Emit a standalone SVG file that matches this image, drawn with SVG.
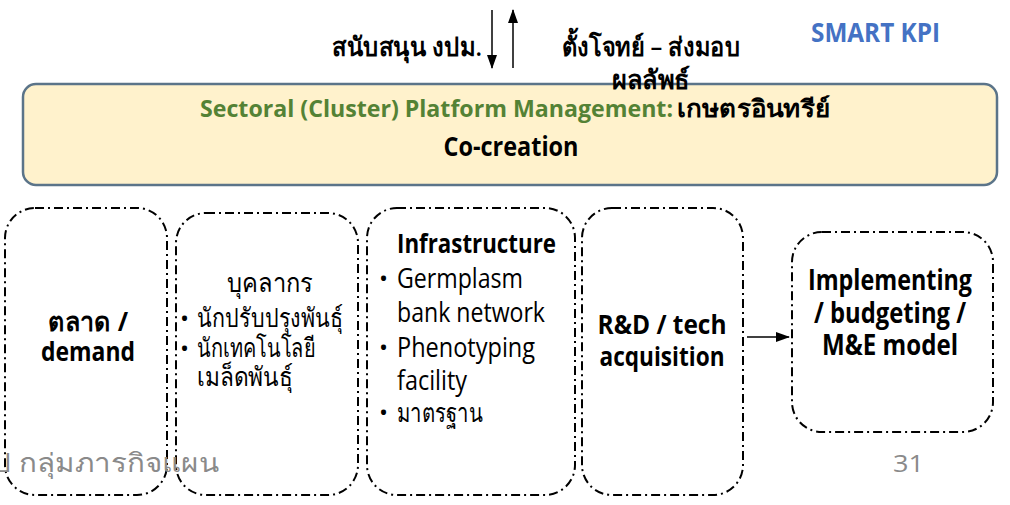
<svg xmlns="http://www.w3.org/2000/svg" width="1010" height="505" viewBox="0 0 1010 505">
<defs>
<style>
.t{font-family:"Open Sans","Noto Sans",sans-serif;fill:#000}
.b{font-weight:bold}
.m{font-weight:600}
.box{fill:none;stroke:#000;stroke-width:2;stroke-dasharray:9 4 2 4}
.gray{fill:#8a8a8a}
</style>
<marker id="ah" markerWidth="14" markerHeight="10" refX="13" refY="5" orient="auto" markerUnits="userSpaceOnUse">
<path d="M0,0 L14,5 L0,10 z" fill="#000"/>
</marker>
</defs>
<rect width="1010" height="505" fill="#fff"/>

<g id="banner">
<rect x="23" y="84" width="974" height="101" rx="13" fill="#fff2cc" stroke="#5b7489" stroke-width="2.5"/>
<text class="t b" x="200" y="117" font-size="24" textLength="473" lengthAdjust="spacingAndGlyphs" style="fill:#548235">Sectoral (Cluster) Platform Management:</text>
<text class="t m" x="677" y="117" font-size="24" textLength="153" lengthAdjust="spacingAndGlyphs">เกษตรอินทรีย์</text>
<text class="t b" x="511" y="156" font-size="26" text-anchor="middle" textLength="135" lengthAdjust="spacingAndGlyphs">Co-creation</text>
</g>

<g id="top-labels">
<text class="t m" x="332" y="56" font-size="26" textLength="150" lengthAdjust="spacingAndGlyphs">สนับสนุน งปม.</text>
<text class="t m" x="562" y="56" font-size="26" textLength="178" lengthAdjust="spacingAndGlyphs">ตั้งโจทย์ – ส่งมอบ</text>
<text class="t m" x="612" y="89" font-size="26" textLength="78" lengthAdjust="spacingAndGlyphs">ผลลัพธ์</text>
<text class="t b" x="811" y="42" font-size="26" textLength="129" lengthAdjust="spacingAndGlyphs" style="fill:#4472c4">SMART KPI</text>
</g>

<g id="connectors">
<line x1="492" y1="10" x2="492" y2="68" stroke="#000" stroke-width="1.5" marker-end="url(#ah)"/>
<line x1="513" y1="68" x2="513" y2="10" stroke="#000" stroke-width="1.5" marker-end="url(#ah)"/>
<line x1="747" y1="337" x2="789" y2="337" stroke="#000" stroke-width="1.5" marker-end="url(#ah)"/>
</g>

<g id="node-market">
<rect class="box" x="5" y="208" width="162" height="287" rx="30"/>
<text class="t b" x="88" y="331" font-size="27" text-anchor="middle" textLength="80" lengthAdjust="spacingAndGlyphs">ตลาด /</text>
<text class="t b" x="88" y="361" font-size="27" text-anchor="middle" textLength="94" lengthAdjust="spacingAndGlyphs">demand</text>
</g>

<g id="node-people">
<rect class="box" x="176" y="213" width="182" height="282" rx="30"/>
<text class="t" x="270" y="292" font-size="27" text-anchor="middle" textLength="86" lengthAdjust="spacingAndGlyphs">บุคลากร</text>
<text class="t" x="180" y="327" font-size="24">•</text>
<text class="t" x="197" y="327" font-size="26" textLength="146" lengthAdjust="spacingAndGlyphs">นักปรับปรุงพันธุ์</text>
<text class="t" x="180" y="357" font-size="24">•</text>
<text class="t" x="197" y="357" font-size="26" textLength="118" lengthAdjust="spacingAndGlyphs">นักเทคโนโลยี</text>
<text class="t" x="197" y="386" font-size="26" textLength="96" lengthAdjust="spacingAndGlyphs">เมล็ดพันธุ์</text>
</g>

<g id="node-infra">
<rect class="box" x="367" y="208" width="208" height="287" rx="30"/>
<text class="t b" x="397" y="253" font-size="27" textLength="159" lengthAdjust="spacingAndGlyphs">Infrastructure</text>
<text class="t" x="379" y="287" font-size="24">•</text>
<text class="t" x="397" y="288" font-size="27" textLength="126" lengthAdjust="spacingAndGlyphs">Germplasm</text>
<text class="t" x="397" y="322" font-size="27" textLength="148" lengthAdjust="spacingAndGlyphs">bank network</text>
<text class="t" x="379" y="356" font-size="24">•</text>
<text class="t" x="397" y="357" font-size="27" textLength="138" lengthAdjust="spacingAndGlyphs">Phenotyping</text>
<text class="t" x="397" y="390" font-size="27" textLength="70" lengthAdjust="spacingAndGlyphs">facility</text>
<text class="t" x="379" y="421" font-size="24">•</text>
<text class="t" x="397" y="422" font-size="26" textLength="86" lengthAdjust="spacingAndGlyphs">มาตรฐาน</text>
</g>

<g id="node-rd">
<rect class="box" x="582" y="208" width="161" height="287" rx="30"/>
<text class="t b" x="662" y="334" font-size="27" text-anchor="middle" textLength="129" lengthAdjust="spacingAndGlyphs">R&amp;D / tech</text>
<text class="t b" x="662" y="366" font-size="27" text-anchor="middle" textLength="125" lengthAdjust="spacingAndGlyphs">acquisition</text>
</g>

<g id="node-impl">
<rect class="box" x="792" y="232" width="201" height="200" rx="30"/>
<text class="t b" x="890" y="290" font-size="28" text-anchor="middle" textLength="164" lengthAdjust="spacingAndGlyphs">Implementing</text>
<text class="t b" x="890" y="323" font-size="28" text-anchor="middle" textLength="152" lengthAdjust="spacingAndGlyphs">/ budgeting /</text>
<text class="t b" x="890" y="355" font-size="28" text-anchor="middle" textLength="136" lengthAdjust="spacingAndGlyphs">M&amp;E model</text>
</g>

<g id="footer">
<text class="t gray" x="-8" y="472" font-size="26" style="fill:#8a8a8a" textLength="227" lengthAdjust="spacingAndGlyphs">ป กลุ่มภารกิจแผน</text>
<text class="t gray" x="893" y="472" font-size="24" style="fill:#8a8a8a" textLength="31" lengthAdjust="spacingAndGlyphs">31</text>
</g>
</svg>
